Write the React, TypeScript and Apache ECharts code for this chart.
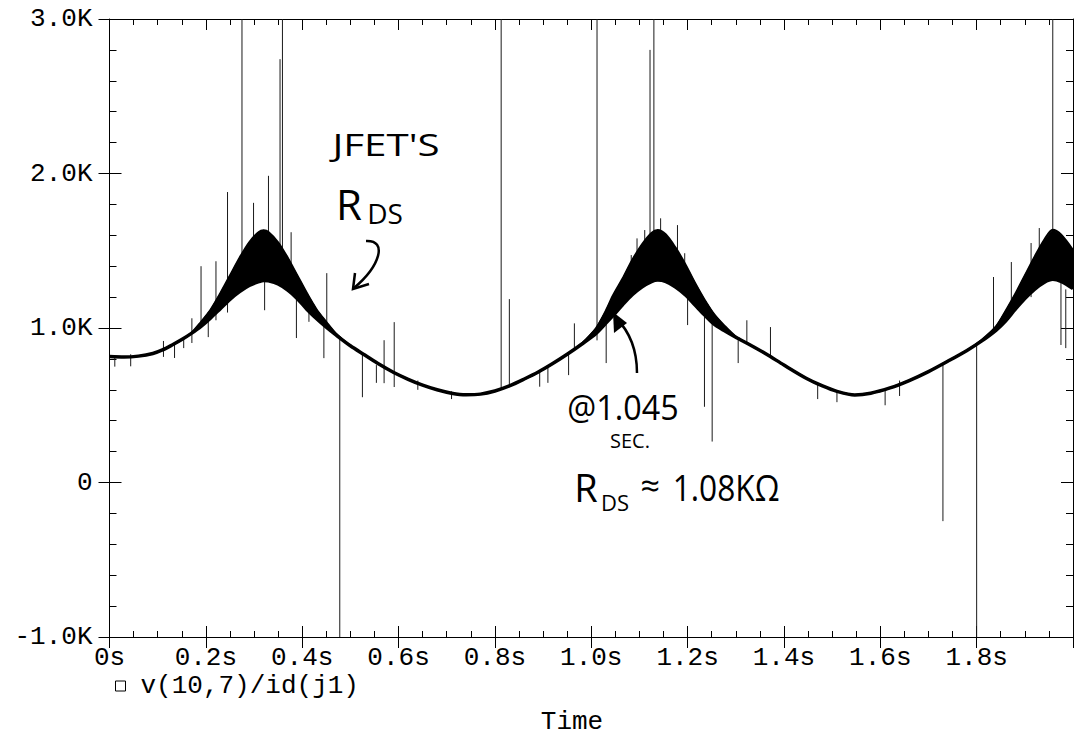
import React, { useEffect, useRef } from 'react';
import * as echarts from 'echarts';

const MONO = "'Courier New', 'Liberation Mono', monospace";
const HAND = "'Open Sans', 'Noto Sans', sans-serif";

// Envelope of v(10,7)/id(j1): time (s), lower edge and upper edge (ohms)
const timeS = [
  0.0, 0.03, 0.06, 0.09, 0.11, 0.13, 0.15, 0.17, 0.19, 0.21, 0.23, 0.25, 0.27, 0.29, 0.31, 0.32,
  0.33, 0.35, 0.37, 0.39, 0.41, 0.43, 0.45, 0.47, 0.5, 0.53, 0.56, 0.59, 0.62, 0.65, 0.68, 0.71,
  0.74, 0.77, 0.8, 0.83, 0.86, 0.89, 0.92, 0.95, 0.98, 1.01, 1.03, 1.045, 1.065, 1.085, 1.105,
  1.125, 1.138, 1.155, 1.175, 1.195, 1.215, 1.235, 1.255, 1.275, 1.3, 1.33, 1.364, 1.4, 1.446,
  1.48, 1.51, 1.547, 1.58, 1.62, 1.66, 1.7, 1.74, 1.78, 1.81, 1.84, 1.86, 1.88, 1.9, 1.92, 1.94,
  1.958, 1.975, 2.0,
];
const lowerOhm = [
  815, 812, 818, 835, 858, 890, 925, 965, 1010, 1065, 1125, 1185, 1235, 1275, 1300, 1308,
  1305, 1285, 1245, 1190, 1120, 1060, 1005, 955, 885, 825, 765, 712, 668, 630, 600, 578,
  568, 572, 592, 625, 668, 715, 770, 830, 895, 965, 1030, 1080, 1150, 1215, 1265,
  1300, 1310, 1300, 1265, 1215, 1150, 1085, 1025, 985, 940, 890, 830, 760, 675,
  625, 590, 567, 578, 612, 660, 718, 785, 855, 915, 985, 1045, 1120, 1190, 1250, 1295,
  1315, 1302, 1255,
];
const upperOhm = [
  815, 812, 818, 835, 858, 890, 925, 968, 1040, 1120, 1225, 1340, 1455, 1555, 1622, 1632,
  1622, 1555, 1455, 1340, 1225, 1120, 1040, 965, 885, 825, 765, 712, 668, 630, 600, 578,
  568, 572, 592, 625, 668, 715, 770, 830, 900, 1000, 1110, 1210, 1320, 1440, 1540,
  1615, 1634, 1605, 1520, 1415, 1295, 1185, 1090, 1020, 945, 890, 830, 760, 675,
  625, 590, 567, 578, 612, 660, 718, 785, 855, 922, 1010, 1110, 1220, 1340, 1460, 1570,
  1636, 1605, 1505,
];

// Glitch spikes: time (s), low end and high end (ohms)
const spikeTime = [
  0.011, 0.044, 0.112, 0.135, 0.154, 0.171, 0.19, 0.205, 0.221, 0.245, 0.275, 0.299, 0.322, 0.33,
  0.354, 0.359, 0.377, 0.388, 0.414, 0.445, 0.451, 0.478, 0.525, 0.554, 0.57, 0.591, 0.64, 0.71,
  0.813, 0.83, 0.893, 0.91, 0.953, 0.965, 1.012, 1.031, 1.083, 1.095, 1.111, 1.122, 1.13, 1.144,
  1.179, 1.194, 1.2, 1.235, 1.251, 1.305, 1.323, 1.372, 1.47, 1.51, 1.61, 1.64, 1.73, 1.8,
  1.835, 1.872, 1.913, 1.93, 1.958, 1.975, 1.985,
];
const spikeLow = [
  750, 752, 813, 806, 870, 903, 1010, 941, 1050, 1100, 1250, 1300, 1115, 1500,
  1450, 1450, 1300, 935, 1040, 805, 1000, -1000, 552, 645, 643, 618, 600, 540,
  600, 620, 620, 645, 695, 860, 920, 773, 1200, 1250, 1300, 1500, 1500, 1300,
  1300, 1250, 1019, 490, 265, 773, 900, 820, 540, 520, 500, 560, -250, -1000,
  975, 1100, 1200, 1300, 1630, 890, 870,
];
const spikeHigh = [
  822, 830, 916, 890, 935, 1063, 1400, 1060, 1432, 1880, 3000, 1810, 1300, 1985,
  2740, 3000, 1620, 1200, 1115, 1020, 1355, 930, 835, 760, 921, 1038, 660, 590,
  3000, 1187, 720, 745, 835, 1030, 3000, 1030, 1472, 1580, 1634, 2800, 3000, 1710,
  1666, 1484, 1250, 1100, 1040, 935, 1050, 1006, 640, 590, 612, 660, 770, 900,
  1330, 1427, 1550, 1647, 3000, 1300, 1250,
];

const xTicks = { min: 0, max: 2, interval: 0.2 };
const yTicks = { min: -1000, max: 3000, interval: 1000 };

const SERIES_NAME = 'v(10,7)/id(j1)';

function buildOption() {
  const lowerData = timeS.map((t, i) => [t, lowerOhm[i]]);
  const upperData = timeS.map((t, i) => [t, upperOhm[i]]);
  const bandData = timeS.map((t, i) => [t, lowerOhm[i], upperOhm[i]]);
  const spikeData = spikeTime.map((t, i) => [t, spikeLow[i], spikeHigh[i]]);

  const black = { color: '#000', width: 1 };
  const xBase = { type: 'value', gridIndex: 0, ...xTicks, splitLine: { show: false } };
  const yBase = { type: 'value', gridIndex: 0, ...yTicks, splitLine: { show: false } };

  return {
    animation: false,
    backgroundColor: '#fff',
    textStyle: { fontFamily: MONO },
    grid: { left: 109.5, top: 19, width: 972.5, height: 618, containLabel: false },
    legend: {
      show: true,
      data: [SERIES_NAME],
      left: 110,
      top: 668,
      icon: 'rect',
      itemWidth: 10,
      itemHeight: 10,
      selectedMode: false,
      itemStyle: { color: '#fff', borderColor: '#000', borderWidth: 1 },
      textStyle: { fontFamily: MONO, fontSize: 26, color: '#000', padding: [0, 0, 0, 10] },
    },
    xAxis: [
      {
        ...xBase,
        position: 'bottom',
        axisLine: { show: true, onZero: false, lineStyle: black },
        axisTick: { show: true, inside: true, length: 11, lineStyle: black },
        minorTick: { show: true, splitNumber: 4, length: 6, lineStyle: black },
        axisLabel: {
          margin: 8,
          color: '#000',
          fontFamily: MONO,
          fontSize: 26,
          formatter: (v: number) => (v > 1.99 ? '' : v === 0 ? '0s' : v.toFixed(1) + 's'),
        },
      },
      {
        ...xBase,
        position: 'bottom',
        axisLine: { show: false, onZero: false },
        axisTick: { show: true, inside: false, length: 11, lineStyle: black },
        axisLabel: { show: false },
      },
      {
        ...xBase,
        position: 'top',
        axisLine: { show: true, onZero: false, lineStyle: black },
        axisTick: { show: true, inside: true, length: 11, lineStyle: black },
        minorTick: { show: true, splitNumber: 4, length: 6, lineStyle: black },
        axisLabel: { show: false },
      },
    ],
    yAxis: [
      {
        ...yBase,
        position: 'left',
        axisLine: { show: true, onZero: false, lineStyle: black },
        axisTick: { show: true, inside: true, length: 12, lineStyle: black },
        minorTick: { show: true, splitNumber: 5, length: 7, lineStyle: black },
        axisLabel: {
          margin: 17,
          color: '#000',
          fontFamily: MONO,
          fontSize: 26,
          formatter: (v: number) => (v === 0 ? '0' : (v / 1000).toFixed(1) + 'K'),
        },
      },
      {
        ...yBase,
        position: 'left',
        axisLine: { show: false, onZero: false },
        axisTick: { show: true, inside: false, length: 11, lineStyle: black },
        axisLabel: { show: false },
      },
      {
        ...yBase,
        position: 'right',
        axisLine: { show: true, onZero: false, lineStyle: black },
        axisTick: { show: true, inside: true, length: 12, lineStyle: black },
        minorTick: { show: true, splitNumber: 5, length: 7, lineStyle: black },
        axisLabel: { show: false },
      },
    ],
    series: [
      {
        // filled band between the two envelopes, drawn as one polygon
        name: SERIES_NAME,
        type: 'custom',
        xAxisIndex: 0,
        yAxisIndex: 0,
        data: bandData,
        encode: { x: 0, y: [1, 2] },
        itemStyle: { color: '#000' },
        silent: true,
        clip: true,
        z: 3,
        renderItem: (params: any, api: any) => {
          if (params.dataIndex !== 0) return null;
          const top = timeS.map((t, i) => api.coord([t, upperOhm[i]]));
          const bottom = timeS.map((t, i) => api.coord([t, lowerOhm[i]])).reverse();
          return {
            type: 'polygon',
            shape: { points: top.concat(bottom), smooth: 0 },
            style: { fill: '#000', stroke: '#000', lineWidth: 1 },
          };
        },
      },
      {
        name: 'lower',
        type: 'line',
        xAxisIndex: 0,
        yAxisIndex: 0,
        data: lowerData,
        showSymbol: false,
        symbol: 'none',
        smooth: 0.3,
        lineStyle: { color: '#000', width: 3.5 },
        itemStyle: { color: '#000' },
        silent: true,
        z: 4,
      },
      {
        name: 'upper',
        type: 'line',
        xAxisIndex: 0,
        yAxisIndex: 0,
        data: upperData,
        showSymbol: false,
        symbol: 'none',
        smooth: 0.3,
        lineStyle: { color: '#000', width: 2 },
        itemStyle: { color: '#000' },
        silent: true,
        z: 4,
      },
      {
        name: 'spikes',
        type: 'custom',
        xAxisIndex: 0,
        yAxisIndex: 0,
        data: spikeData,
        encode: { x: 0, y: [1, 2] },
        silent: true,
        clip: true,
        z: 2,
        renderItem: (_params: any, api: any) => {
          const a = api.coord([api.value(0), api.value(1)]);
          const b = api.coord([api.value(0), api.value(2)]);
          return {
            type: 'line',
            shape: { x1: a[0], y1: a[1], x2: b[0], y2: b[1] },
            style: { stroke: '#1a1a1a', lineWidth: 1 },
          };
        },
      },
    ],
    graphic: [
      {
        type: 'text',
        x: 572,
        y: 722,
        style: { text: 'Time', font: `26px ${MONO}`, fill: '#000', textAlign: 'center', textVerticalAlign: 'middle' },
      },
      // handwritten notes
      {
        type: 'text',
        x: 386,
        y: 144,
        scaleX: 1.3,
        style: { text: "JFET'S", font: `31px ${HAND}`, fill: '#000', textAlign: 'center', textVerticalAlign: 'middle' },
      },
      {
        type: 'text',
        x: 349,
        y: 203,
        style: { text: 'R', font: `42px ${HAND}`, fill: '#000', textAlign: 'center', textVerticalAlign: 'middle' },
      },
      {
        type: 'text',
        x: 385,
        y: 213,
        style: { text: 'DS', font: `28px ${HAND}`, fill: '#000', textAlign: 'center', textVerticalAlign: 'middle' },
      },
      {
        type: 'bezierCurve',
        shape: { x1: 366, y1: 241, cpx1: 388, cpy1: 240, cpx2: 380, cpy2: 266, x2: 354, y2: 288 },
        style: { stroke: '#000', lineWidth: 2.5, fill: null },
      },
      {
        type: 'polyline',
        shape: { points: [[355, 273], [353, 289], [369, 284]] },
        style: { stroke: '#000', lineWidth: 2.5, fill: null },
      },
      {
        type: 'text',
        x: 623,
        y: 407,
        scaleX: 0.95,
        style: { text: '@1.045', font: `34px ${HAND}`, fill: '#000', textAlign: 'center', textVerticalAlign: 'middle' },
      },
      {
        type: 'text',
        x: 630,
        y: 440,
        style: { text: 'SEC.', font: `20px ${HAND}`, fill: '#000', textAlign: 'center', textVerticalAlign: 'middle' },
      },
      {
        type: 'bezierCurve',
        shape: { x1: 637, y1: 373, cpx1: 637, cpy1: 348, cpx2: 628, cpy2: 330, x2: 616, y2: 318 },
        style: { stroke: '#000', lineWidth: 2.5, fill: null },
      },
      {
        type: 'polygon',
        shape: { points: [[613, 312], [614, 333], [627, 323]] },
        style: { fill: '#000' },
      },
      {
        type: 'text',
        x: 586,
        y: 487,
        style: { text: 'R', font: `38px ${HAND}`, fill: '#000', textAlign: 'center', textVerticalAlign: 'middle' },
      },
      {
        type: 'text',
        x: 615,
        y: 502,
        style: { text: 'DS', font: `22px ${HAND}`, fill: '#000', textAlign: 'center', textVerticalAlign: 'middle' },
      },
      {
        type: 'text',
        x: 650,
        y: 485,
        style: { text: '≈', font: `34px ${HAND}`, fill: '#000', textAlign: 'center', textVerticalAlign: 'middle' },
      },
      {
        type: 'text',
        x: 726,
        y: 487,
        scaleX: 0.88,
        style: { text: '1.08KΩ', font: `36px ${HAND}`, fill: '#000', textAlign: 'center', textVerticalAlign: 'middle' },
      },
    ],
  };
}

export default function App() {
  const ref = useRef<HTMLDivElement>(null);
  useEffect(() => {
    if (!ref.current) return;
    const chart = echarts.init(ref.current, null, { renderer: 'svg' });
    chart.setOption(buildOption() as any);
    return () => chart.dispose();
  }, []);
  return (
    <div
      ref={ref}
      style={{ position: 'fixed', left: 0, top: 0, width: 1076, height: 736, background: '#fff' }}
    />
  );
}
